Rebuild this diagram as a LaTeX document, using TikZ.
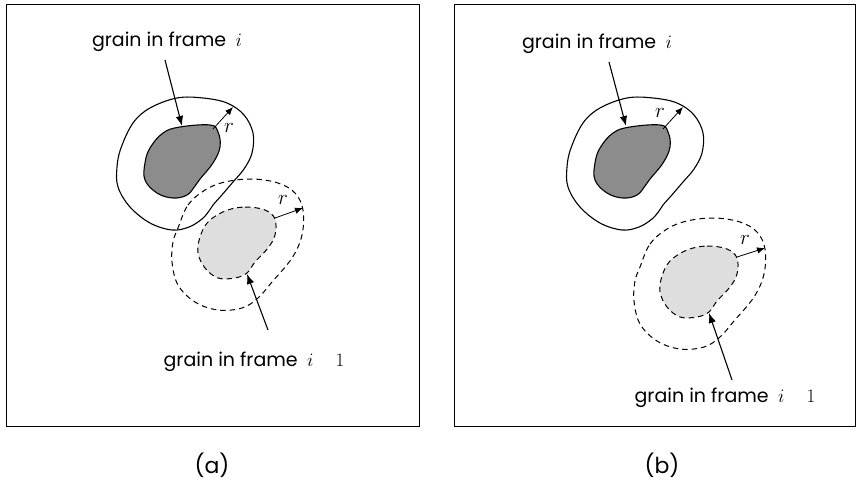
\RequirePackage{fix-cm}
\documentclass[tikz,border=0pt]{standalone}
\usepackage{fontspec}
\setmainfont{Poppins}
\usetikzlibrary{arrows.meta}
\definecolor{darkgrain}{HTML}{8C8C8C}
\definecolor{lightgrain}{HTML}{DEDEDE}
\tikzset{
  panelframe/.style={draw=black, line width=0.8pt},
  lbl/.style={font=\fontsize{19}{22}\selectfont, inner sep=0pt},
  captxt/.style={font=\fontsize{22}{26}\selectfont, inner sep=0pt},
  rlbl/.style={font=\fontsize{21}{24}\selectfont, inner sep=0pt},
  outline/.style={draw=black, line width=1.1pt},
  dashline/.style={draw=black, line width=1.0pt, dash pattern=on 5.5pt off 4pt},
  ptr/.style={line width=1.1pt, -{Latex[length=10pt,width=7.5pt]}},
  rptr/.style={line width=0.8pt, -{Latex[length=8pt,width=6.5pt]}}
}
\newcommand{\grainone}{%
  \draw[outline] plot[smooth cycle, tension=0.6] coordinates {
    (150,108) (177,98) (203,98) (227,103) (244,115) (253,133) (252,153)
    (244,169) (233,182) (221,196) (213,205) (209,211) (202,219) (189,227)
    (172,230) (150,223) (130,207) (118,187) (117,167) (121,148) (133,123)};
  \draw[outline, fill=darkgrain] plot[smooth cycle, tension=0.65] coordinates {
    (180,127) (210,125) (218,132) (220,147) (213,163) (200,179) (195,186)
    (187,195) (173,198) (157,193) (145,180) (145,163) (150,148) (163,133)};
}
\newcommand{\graintwo}{%
  \draw[dashline] plot[smooth cycle, tension=0.6] coordinates {
    (178,228) (188,205) (205,190) (225,182) (252,179) (278,183) (295,193)
    (303,210) (302,235) (292,258) (272,282) (258,298) (242,308) (218,310)
    (195,302) (178,285) (172,262) (173,242)};
  \draw[dashline, fill=lightgrain] plot[smooth cycle, tension=0.6] coordinates {
    (225,211) (245,207) (265,210) (275,219) (275,235) (268,248) (255,262)
    (247,273) (235,278) (218,278) (205,268) (198,253) (200,237) (208,222)};
}
\begin{document}
\begin{tikzpicture}[x=1pt,y=-1pt]
\useasboundingbox (0,0) rectangle (856,481);
% frames
\draw[panelframe] (6,4) rectangle (419,426);
\draw[panelframe] (454,4) rectangle (855.5,426);
\node[captxt] (capa) at (212,465) {(a)};
\node[captxt] (capb) at (662,465) {(b)};

% ---------- panel (a)
\grainone
\graintwo
\coordinate (ga) at (182,126);
\coordinate (gb) at (247,274);
\node[lbl] (la) at (167,42) {grain in frame\enspace$i$};
\node[lbl] (lb) at (254,362) {grain in frame\enspace$i\mathbin{\phantom{+}}1$};
\draw[ptr] (165,60) -- (ga);
\draw[ptr] (268,330) -- (gb);
\coordinate (ra0) at (213,129);
\coordinate (ra1) at (233,107);
\draw[rptr] (ra0) -- (ra1);
\node[rlbl] (ra) at (229,128) {$r$};
\coordinate (rb0) at (275,218);
\coordinate (rb1) at (303,208);
\draw[rptr] (rb0) -- (rb1);
\node[rlbl] (rb) at (283,200) {$r$};

% ---------- panel (b)
\begin{scope}[shift={(450,0)}]
  \grainone
\end{scope}
\begin{scope}[shift={(462,39)}]
  \graintwo
\end{scope}
\coordinate (gc) at (626,126);
\coordinate (gd) at (709,313);
\node[lbl] (lc) at (597,44) {grain in frame\enspace$i$};
\node[lbl] (ld) at (725,398) {grain in frame\enspace$i\mathbin{\phantom{+}}1$};
\draw[ptr] (609,62) -- (gc);
\draw[ptr] (732,380) -- (gd);
\coordinate (rc0) at (663,129);
\coordinate (rc1) at (683,107);
\draw[rptr] (rc0) -- (rc1);
\node[rlbl] (rc) at (660,113) {$r$};
\coordinate (rd0) at (737,257);
\coordinate (rd1) at (765,248);
\draw[rptr] (rd0) -- (rd1);
\node[rlbl] (rd) at (745,240) {$r$};
\end{tikzpicture}
\end{document}
